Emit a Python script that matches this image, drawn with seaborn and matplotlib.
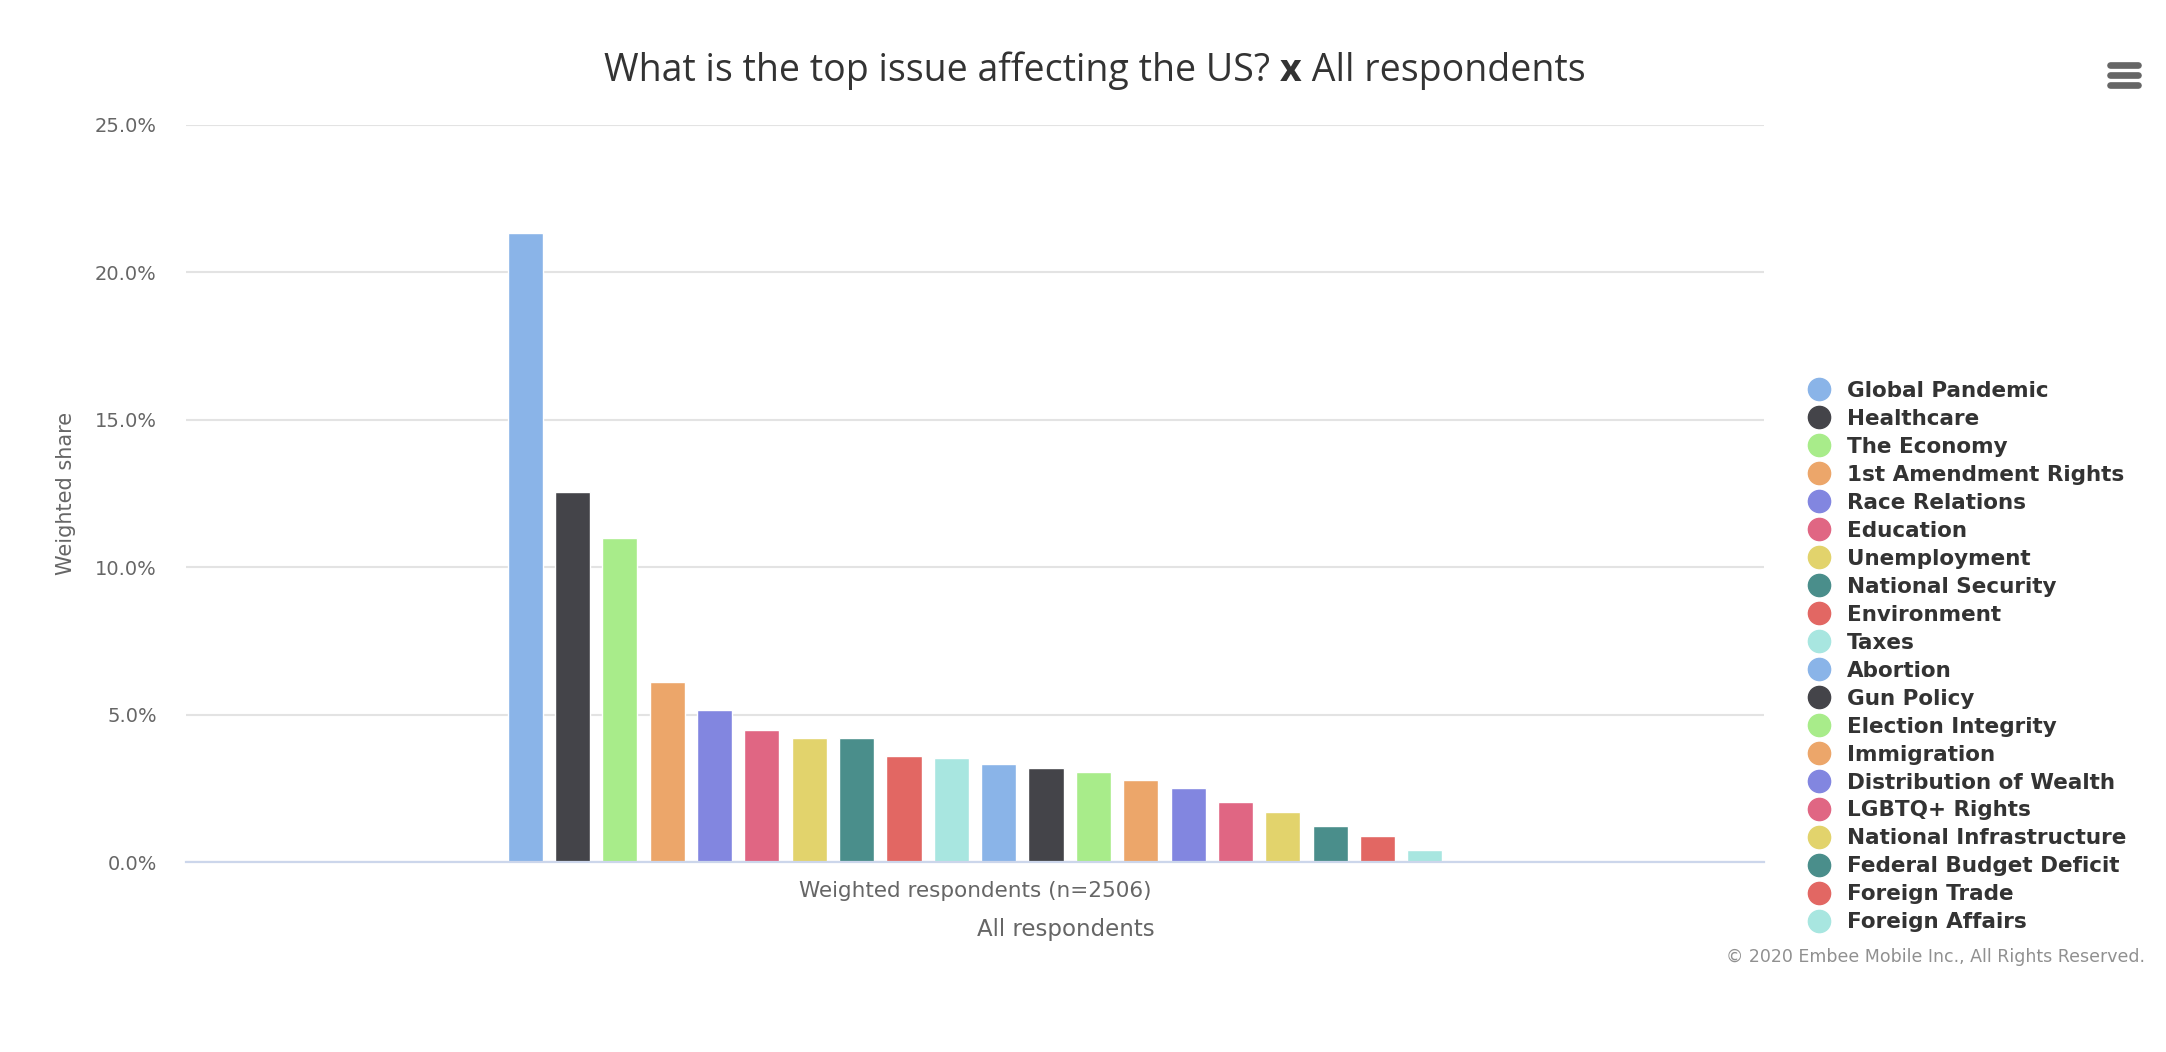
import pandas as pd
import seaborn as sns
import matplotlib.pyplot as plt
from matplotlib.lines import Line2D
from matplotlib.ticker import FuncFormatter

# data (weighted share, %)
issues = ["Global Pandemic", "Healthcare", "The Economy", "1st Amendment Rights",
          "Race Relations", "Education", "Unemployment", "National Security",
          "Environment", "Taxes", "Abortion", "Gun Policy", "Election Integrity",
          "Immigration", "Distribution of Wealth", "LGBTQ+ Rights",
          "National Infrastructure", "Federal Budget Deficit", "Foreign Trade",
          "Foreign Affairs"]
shares = [21.35, 12.55, 10.98, 6.10, 5.16, 4.48, 4.20, 4.20, 3.60, 3.53,
          3.33, 3.19, 3.06, 2.79, 2.52, 2.04, 1.70, 1.23, 0.89, 0.42]
group = "Weighted respondents (n=2506)"
yticks = [0, 5, 10, 15, 20, 25]

base_colors = ["#8ab4e8", "#444449", "#a8ec8a", "#eca66a", "#8286e0",
               "#e06683", "#e2d36c", "#4a8e8b", "#e26763", "#a8e6e0"]
colors = base_colors * 2

sns.set_theme(style="white")
plt.rcParams['font.family'] = ['DejaVu Sans']

W, H = 2166, 1052
fig = plt.figure(figsize=(W / 100, H / 100), dpi=100)
ax = fig.add_axes([186 / W, 1 - 862 / H, 1578 / W, 737 / H])

df = pd.DataFrame({"group": group, "issue": issues, "share": shares})
sns.barplot(data=df, x="group", y="share", hue="issue", hue_order=issues,
            palette=colors, width=0.6, gap=0.26, saturation=1,
            legend=False, ax=ax)

ax.set_xlim(-0.5, 0.5)
ax.set_ylim(0, 25)
ax.set_yticks(yticks)
ax.yaxis.set_major_formatter(FuncFormatter(lambda v, p: f"{v:.1f}%"))
ax.yaxis.grid(True, color="#e3e3e3", lw=1.5)
ax.set_axisbelow(True)
for s in ["left", "right", "top"]:
    ax.spines[s].set_visible(False)
ax.spines["bottom"].set_color("#ccd6eb")
ax.spines["bottom"].set_linewidth(1.6)
ax.tick_params(axis="y", length=0, pad=21, labelsize=14, labelcolor="#666666")
ax.tick_params(axis="x", length=0, pad=14, labelsize=15.5, labelcolor="#666666")

ax.set_xlabel("All respondents", fontsize=16.5, color="#666666")
ax.xaxis.set_label_coords((1066 - 186) / 1578, (862 - 918) / 737)
ax.set_ylabel("Weighted share", fontsize=15, color="#666666")
ax.yaxis.set_label_coords((76 - 186) / 1578, 0.5)

# title with a bold "x"
renderer = fig.canvas.get_renderer()
parts = [("What is the top issue affecting the US? ", "normal"),
         ("x", "bold"), (" All respondents", "normal")]
texts = []
for s, wgt in parts:
    t = fig.text(0, 1 - 81 / H, s, fontsize=27, fontweight=wgt, color="#333333",
                 family="Open Sans", ha="left", va="baseline")
    texts.append(t)
widths = [t.get_window_extent(renderer).width for t in texts]
x0 = 1095 - sum(widths) / 2
for t, w in zip(texts, widths):
    t.set_x(x0 / W)
    x0 += w

# legend with round markers
handles = [Line2D([], [], ls="none", marker="o", markersize=16,
                  markerfacecolor=c, markeredgecolor=c) for c in colors]
fig.legend(handles, issues, loc="upper left", bbox_to_anchor=(1808 / W, 1 - 381 / H),
           frameon=False, borderpad=0, borderaxespad=0, handlelength=1.0,
           handletextpad=0.8, labelspacing=0.37,
           prop={"weight": "bold", "size": 15.5}, labelcolor="#333333")

fig.text(2145 / W, 1 - 962 / H, "© 2020 Embee Mobile Inc., All Rights Reserved.",
         fontsize=12.5, color="#909090", ha="right", va="baseline")

# menu icon
for yy in [65, 75, 85]:
    fig.add_artist(Line2D([2110 / W, 2138 / W], [1 - yy / H, 1 - yy / H],
                          color="#666666", lw=4.8, solid_capstyle="round"))

fig.savefig("out.png", dpi=100)
